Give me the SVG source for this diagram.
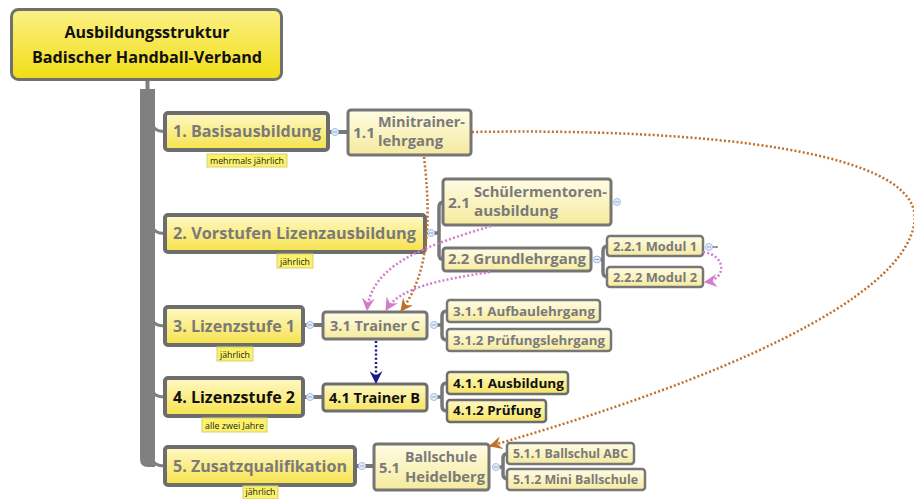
<svg xmlns="http://www.w3.org/2000/svg" width="914" height="499" viewBox="0 0 914 499">
<defs>
<linearGradient id="gT" x1="0" y1="0" x2="0" y2="1"><stop offset="0" stop-color="#fbf186"/><stop offset="1" stop-color="#f1dd14"/></linearGradient>
<linearGradient id="gL1" x1="0" y1="0" x2="0" y2="1"><stop offset="0" stop-color="#fff9c8"/><stop offset="1" stop-color="#f6e24a"/></linearGradient>
<linearGradient id="gL2" x1="0" y1="0" x2="0" y2="1"><stop offset="0" stop-color="#fffce4"/><stop offset="1" stop-color="#f5ea9e"/></linearGradient>
<linearGradient id="gB" x1="0" y1="0" x2="0" y2="1"><stop offset="0" stop-color="#fff8c4"/><stop offset="1" stop-color="#f5e462"/></linearGradient>
<marker id="aBr" viewBox="0 0 12 12" refX="11" refY="6" markerWidth="13" markerHeight="13" markerUnits="userSpaceOnUse" orient="auto"><path d="M0,0 L12,6 L0,12 L4,6 Z" fill="#c0702a"/></marker>
<marker id="aPk" viewBox="0 0 12 12" refX="11" refY="6" markerWidth="13" markerHeight="13" markerUnits="userSpaceOnUse" orient="auto"><path d="M0,0 L12,6 L0,12 L4,6 Z" fill="#d27ccc"/></marker>
<marker id="aNv" viewBox="0 0 12 12" refX="11" refY="6" markerWidth="13" markerHeight="13" markerUnits="userSpaceOnUse" orient="auto"><path d="M0,0 L12,6 L0,12 L4,6 Z" fill="#1a1a8a"/></marker>
</defs>
<style>
text{font-family:"Open Sans","DejaVu Sans",sans-serif;font-weight:bold;}
.t{fill:url(#gT);stroke:#707070;stroke-width:3}
.l1{fill:url(#gL1);stroke:#6d6d6d;stroke-width:4}
.l2{fill:url(#gL2);stroke:#757575;stroke-width:3}
.l3{fill:url(#gL2);stroke:#777;stroke-width:2.5}
.b2{fill:url(#gB);stroke:#6d6d6d;stroke-width:3}
.b3{fill:url(#gB);stroke:#6d6d6d;stroke-width:2.5}
.lab{fill:#fbf26a;stroke:#d8cf78;stroke-width:1}
.lt{font-size:9px;font-weight:normal;fill:#222}
.g{fill:#7a7a7a}
.k{fill:#111}
.f1{font-size:16px}
.f2{font-size:15px}
.f3{font-size:13px}
.f4{font-size:12px}
.br{fill:none;stroke:#777;stroke-width:3.5}
.el{fill:none;stroke:#808080;stroke-width:3}
.c{fill:#e6eefa;stroke:#9fbce4;stroke-width:1}
.cm{stroke:#86a6d6;stroke-width:1}
.dBr{fill:none;stroke:#c0702a;stroke-width:2.5;stroke-dasharray:2 2.2}
.dPk{fill:none;stroke:#d27ccc;stroke-width:2.5;stroke-dasharray:2 2.2}
.dNv{fill:none;stroke:#1a1a8a;stroke-width:2.5;stroke-dasharray:2 2.2}
</style>

<g id="connectors">
<line x1="147.5" y1="80" x2="147.5" y2="90" stroke="#808080" stroke-width="4"/>
<path d="M140,89 H155 V467 H148 Q140,467 140,459 Z" fill="#808080"/>
<path class="el" d="M152,121 Q152,131.5 165,131.5"/>
<path class="el" d="M152,223 Q152,233.5 165,233.5"/>
<path class="el" d="M152,316 Q152,326 165,326"/>
<path class="el" d="M152,387 Q152,397 165,397"/>
<path class="el" d="M152,456 Q152,466 165,466"/>
<line x1="329" y1="132" x2="348" y2="132" stroke="#777" stroke-width="4"/>
<line x1="303" y1="325" x2="323" y2="325" stroke="#777" stroke-width="4"/>
<line x1="303" y1="397" x2="323" y2="397" stroke="#777" stroke-width="4"/>
<line x1="356" y1="466" x2="374" y2="466" stroke="#777" stroke-width="4"/>
<line x1="711" y1="247" x2="718" y2="247" stroke="#555" stroke-width="1.2"/>
<path class="br" d="M431,233 H439 M444,202 Q439,202 439,207 V254.5 Q439,259.5 444,259.5"/>
<path class="br" d="M597,259.5 H603 M608,246 Q603,246 603,251 V272 Q603,277 608,277"/>
<path class="br" d="M434,325 H442 M447,311 Q442,311 442,316 V335 Q442,340 447,340"/>
<path class="br" d="M434,397 H442 M447,383 Q442,383 442,388 V406 Q442,411 447,411"/>
<path class="br" d="M496,467 H503 M508,453.5 Q503,453.5 503,458.5 V474 Q503,479 508,479"/>
<g>
<circle class="c" cx="335" cy="132" r="3.5"/><line class="cm" x1="333" y1="132" x2="337" y2="132"/>
<circle class="c" cx="431" cy="233" r="3.5"/><line class="cm" x1="429" y1="233" x2="433" y2="233"/>
<circle class="c" cx="617" cy="202" r="3.5"/><line class="cm" x1="615" y1="202" x2="619" y2="202"/>
<circle class="c" cx="597" cy="259.5" r="3.5"/><line class="cm" x1="595" y1="259.5" x2="599" y2="259.5"/>
<circle class="c" cx="709" cy="247" r="3.5"/><line class="cm" x1="707" y1="247" x2="711" y2="247"/>
<circle class="c" cx="310" cy="325" r="3.5"/><line class="cm" x1="308" y1="325" x2="312" y2="325"/>
<circle class="c" cx="434" cy="325" r="3.5"/><line class="cm" x1="432" y1="325" x2="436" y2="325"/>
<circle class="c" cx="310" cy="397" r="3.5"/><line class="cm" x1="308" y1="397" x2="312" y2="397"/>
<circle class="c" cx="434" cy="397" r="3.5"/><line class="cm" x1="432" y1="397" x2="436" y2="397"/>
<circle class="c" cx="362" cy="466" r="3.5"/><line class="cm" x1="360" y1="466" x2="364" y2="466"/>
<circle class="c" cx="496" cy="467" r="3.5"/><line class="cm" x1="494" y1="467" x2="498" y2="467"/>
</g>
</g>

<g id="n0"><rect class="t" x="11.5" y="9.5" width="270" height="70" rx="7"/>
<text class="k f1" x="147" y="38" text-anchor="middle" textLength="165" lengthAdjust="spacingAndGlyphs">Ausbildungsstruktur</text>
<text class="k f1" x="147" y="63" text-anchor="middle" textLength="230" lengthAdjust="spacingAndGlyphs">Badischer Handball-Verband</text></g>

<g id="n1"><rect class="l1" x="165" y="113" width="163" height="37" rx="3"/>
<text class="g f1" x="173" y="137" textLength="148" lengthAdjust="spacingAndGlyphs">1. Basisausbildung</text>
<rect class="lab" x="207" y="154" width="80" height="13"/><text class="lt" x="247" y="164" text-anchor="middle" textLength="74" lengthAdjust="spacingAndGlyphs">mehrmals jährlich</text></g>

<g id="n1_1"><rect class="l2" x="348" y="110" width="123" height="45" rx="3"/>
<text class="g f2" x="353" y="138" textLength="22" lengthAdjust="spacingAndGlyphs">1.1</text>
<text class="g f2" x="378" y="127" textLength="87" lengthAdjust="spacingAndGlyphs">Minitrainer-</text>
<text class="g f2" x="378" y="146" textLength="65" lengthAdjust="spacingAndGlyphs">lehrgang</text></g>

<g id="n2"><rect class="l1" x="165" y="215" width="260" height="37" rx="3"/>
<text class="g f1" x="173" y="239" textLength="243" lengthAdjust="spacingAndGlyphs">2. Vorstufen Lizenzausbildung</text>
<rect class="lab" x="277" y="254" width="36" height="14"/><text class="lt" x="295" y="265" text-anchor="middle" textLength="30" lengthAdjust="spacingAndGlyphs">jährlich</text></g>

<g id="n2_1"><rect class="l2" x="443" y="179" width="168" height="46" rx="3"/>
<text class="g f2" x="448" y="208" textLength="22" lengthAdjust="spacingAndGlyphs">2.1</text>
<text class="g f2" x="474" y="197" textLength="133" lengthAdjust="spacingAndGlyphs">Schülermentoren-</text>
<text class="g f2" x="474" y="216" textLength="84" lengthAdjust="spacingAndGlyphs">ausbildung</text></g>

<g id="n2_2"><rect class="l2" x="443" y="248" width="148" height="23" rx="3"/>
<text class="g f2" x="448" y="264" textLength="138" lengthAdjust="spacingAndGlyphs">2.2 Grundlehrgang</text></g>

<g id="n2_2_1"><rect class="l3" x="607" y="236" width="96" height="20" rx="3"/>
<text class="g f4" x="613" y="251" textLength="84" lengthAdjust="spacingAndGlyphs">2.2.1 Modul 1</text></g>

<g id="n2_2_2"><rect class="l3" x="607" y="267" width="96" height="20" rx="3"/>
<text class="g f4" x="613" y="282" textLength="84" lengthAdjust="spacingAndGlyphs">2.2.2 Modul 2</text></g>

<g id="n3"><rect class="l1" x="165" y="307" width="138" height="38" rx="3"/>
<text class="g f1" x="173" y="332" textLength="122" lengthAdjust="spacingAndGlyphs">3. Lizenzstufe 1</text>
<rect class="lab" x="217" y="347" width="36" height="14"/><text class="lt" x="235" y="358" text-anchor="middle" textLength="30" lengthAdjust="spacingAndGlyphs">jährlich</text></g>

<g id="n3_1"><rect class="l2" x="323" y="312" width="104" height="27" rx="3"/>
<text class="g f2" x="330" y="331" textLength="90" lengthAdjust="spacingAndGlyphs">3.1 Trainer C</text></g>

<g id="n3_1_1"><rect class="l3" x="447" y="300" width="153" height="22" rx="3"/>
<text class="g f3" x="453" y="316" textLength="142" lengthAdjust="spacingAndGlyphs">3.1.1 Aufbaulehrgang</text></g>

<g id="n3_1_2"><rect class="l3" x="447" y="329" width="164" height="22" rx="3"/>
<text class="g f3" x="453" y="345" textLength="152" lengthAdjust="spacingAndGlyphs">3.1.2 Prüfungslehrgang</text></g>

<g id="n4"><rect class="l1" x="165" y="378" width="138" height="38" rx="3"/>
<text class="k f1" x="173" y="403" textLength="122" lengthAdjust="spacingAndGlyphs">4. Lizenzstufe 2</text>
<rect class="lab" x="202" y="418" width="65" height="14"/><text class="lt" x="234.5" y="429" text-anchor="middle" textLength="59" lengthAdjust="spacingAndGlyphs">alle zwei Jahre</text></g>

<g id="n4_1"><rect class="b2" x="323" y="384" width="104" height="27" rx="3"/>
<text class="k f2" x="329" y="403" textLength="91" lengthAdjust="spacingAndGlyphs">4.1 Trainer B</text></g>

<g id="n4_1_1"><rect class="b3" x="447" y="372" width="121" height="22" rx="3"/>
<text class="k f3" x="453" y="388" textLength="111" lengthAdjust="spacingAndGlyphs">4.1.1 Ausbildung</text></g>

<g id="n4_1_2"><rect class="b3" x="447" y="400" width="99" height="22" rx="3"/>
<text class="k f3" x="453" y="415" textLength="88" lengthAdjust="spacingAndGlyphs">4.1.2 Prüfung</text></g>

<g id="n5"><rect class="l1" x="165" y="447" width="190" height="38" rx="3"/>
<text class="g f1" x="173" y="472" textLength="174" lengthAdjust="spacingAndGlyphs">5. Zusatzqualifikation</text>
<rect class="lab" x="243" y="486" width="35" height="13"/><text class="lt" x="260.5" y="495" text-anchor="middle" textLength="30" lengthAdjust="spacingAndGlyphs">jährlich</text></g>

<g id="n5_1"><rect class="l2" x="374" y="444" width="115" height="46" rx="3"/>
<text class="g f2" x="379" y="473" textLength="21" lengthAdjust="spacingAndGlyphs">5.1</text>
<text class="g f2" x="405" y="462" textLength="72" lengthAdjust="spacingAndGlyphs">Ballschule</text>
<text class="g f2" x="405" y="482" textLength="80" lengthAdjust="spacingAndGlyphs">Heidelberg</text></g>

<g id="n5_1_1"><rect class="l3" x="507" y="443" width="127" height="21" rx="3"/>
<text class="g f4" x="513" y="458" textLength="115" lengthAdjust="spacingAndGlyphs">5.1.1 Ballschul ABC</text></g>

<g id="n5_1_2"><rect class="l3" x="507" y="469" width="138" height="21" rx="3"/>
<text class="g f4" x="513" y="484" textLength="125" lengthAdjust="spacingAndGlyphs">5.1.2 Mini Ballschule</text></g>

<g id="relations">
<path class="dBr" d="M472,132 C700,128 930,150 914,225 C900,300 720,380 490,446" marker-end="url(#aBr)"/>
<path class="dBr" d="M424,157 C430,210 432,270 401,311" marker-end="url(#aBr)"/>
<path class="dPk" d="M491,226 C430,245 372,262 367,310" marker-end="url(#aPk)"/>
<path class="dPk" d="M490,272 C440,280 400,287 386,310" marker-end="url(#aPk)"/>
<path class="dPk" d="M703,252 C726,255 728,279 705,282" marker-end="url(#aPk)"/>
<path class="dNv" d="M376,341 V383" marker-end="url(#aNv)"/>
</g>
</svg>
